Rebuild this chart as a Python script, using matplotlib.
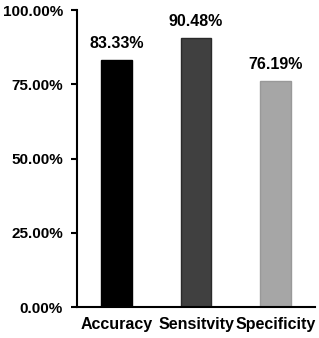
import matplotlib
matplotlib.use("Agg")
import matplotlib.pyplot as plt
from matplotlib.ticker import FuncFormatter

categories = ["Accuracy", "Sensitvity", "Specificity"]
values = [83.33, 90.48, 76.19]
colors = ["#000000", "#404040", "#a6a6a6"]
edges = ["#000000", "#2a2a2a", "#999999"]
yticks = [0, 25, 50, 75, 100]

plt.rcParams['font.family'] = ['Liberation Sans', 'DejaVu Sans']
plt.rcParams['font.weight'] = 'bold'

fig = plt.figure(figsize=(3.19, 3.38), dpi=100)
ax = fig.add_axes([0.2414, 0.0917, 0.7461, 0.8787])

x = range(len(categories))
ax.bar(x, values, width=0.39, color=colors, edgecolor=edges, linewidth=1)
for i, v in enumerate(values):
    ax.text(i, v + 3, "%.2f%%" % v, ha='center', va='bottom',
            fontsize=11.5, fontweight='bold')

ax.set_xlim(-0.5, 2.5)
ax.set_ylim(0, 100)
ax.set_yticks(yticks)
ax.yaxis.set_major_formatter(FuncFormatter(lambda v, p: "%.2f%%" % v))
ax.set_xticks(list(x))
ax.set_xticklabels(categories)
ax.tick_params(axis='x', length=0, pad=7, labelsize=11.5)
ax.tick_params(axis='y', length=4, width=1.5, pad=6, labelsize=11)
for lab in ax.get_xticklabels() + ax.get_yticklabels():
    lab.set_fontweight('bold')

ax.spines['top'].set_visible(False)
ax.spines['right'].set_visible(False)
ax.spines['left'].set_linewidth(1.5)
ax.spines['bottom'].set_linewidth(1.5)

fig.savefig("out.png", dpi=100)
